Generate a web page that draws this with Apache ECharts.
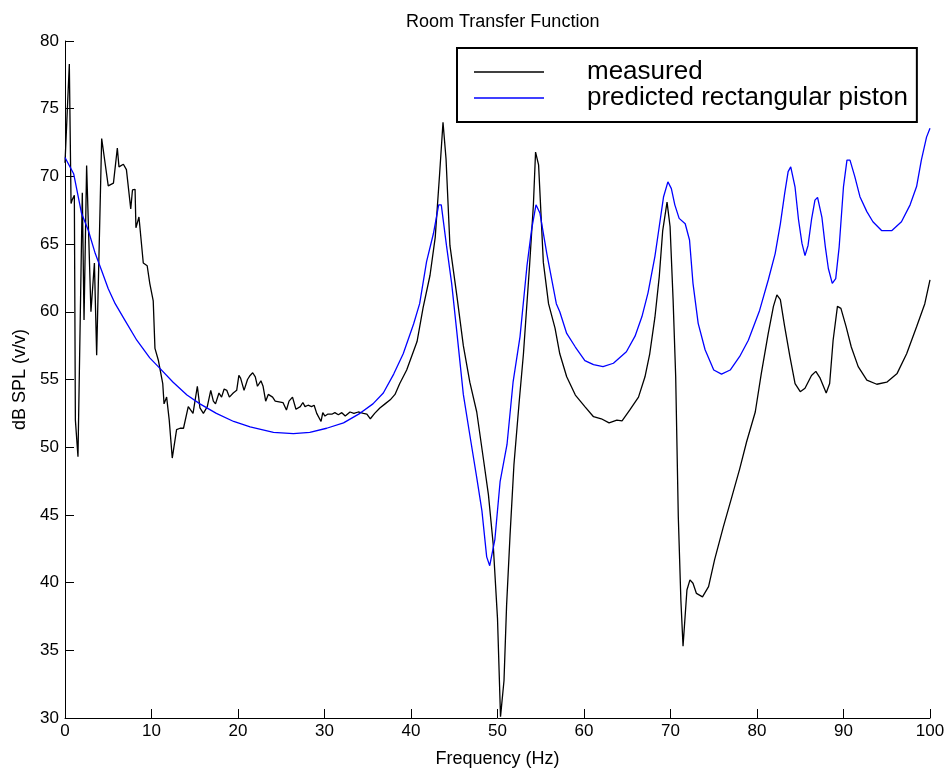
<!DOCTYPE html>
<html>
<head>
<meta charset="utf-8">
<script src="https://cdn.jsdelivr.net/npm/echarts@6/dist/echarts.min.js"></script>
<style>
  html, body { margin: 0; padding: 0; background: #fff; }
  #main { width: 951px; height: 773px; }
</style>
</head>
<body>
<div id="main"></div>
<script>
// measured response (Hz, dB)
var measuredFreq = [0, 0.5, 0.7, 0.85, 1.08, 1.2, 1.5, 2.0, 2.2, 2.5, 3.0, 3.4, 3.66, 4.24, 5.0, 5.6, 6.05, 6.24, 6.75, 7.1,
  7.6, 7.8, 8.1, 8.2, 8.55, 9.05, 9.5, 9.8, 10.2, 10.4, 10.8, 11.3, 11.45, 11.75, 12.05, 12.4, 12.9, 13.3, 13.7, 14.25,
  14.8, 15.3, 15.6, 16.0, 16.45, 16.85, 17.15, 17.4, 17.8, 18.1, 18.4, 18.7, 19.0, 19.45, 19.85, 20.1, 20.3, 20.7, 21.1, 21.4,
  21.7, 22.0, 22.25, 22.65, 22.9, 23.2, 23.5, 24.0, 24.3, 25.2, 25.6, 25.9, 26.3, 26.7, 27.2, 27.5, 27.75, 28.1, 28.5, 28.8,
  29.1, 29.6, 29.8, 30.05, 30.4, 30.9, 31.2, 31.6, 32.0, 32.4, 32.95, 33.4, 33.9, 34.5, 34.9, 35.3, 35.8, 36.4, 37.0, 37.6,
  38.15, 38.7, 39.5, 40.7, 41.4, 42.2, 42.8, 43.3, 43.7, 44.05, 44.5, 45.3, 46.05, 46.8, 47.6, 48.4, 48.95, 49.5, 50.0, 50.35,
  50.75, 51.05, 51.45, 51.9, 52.5, 53.0, 53.7, 54.15, 54.4, 54.75, 55.3, 55.9, 56.65, 57.2, 58.0, 59.0, 60.1, 61.1, 62.0, 62.9,
  63.8, 64.4, 65.3, 66.3, 67.05, 67.6, 68.2, 68.7, 69.1, 69.6, 69.95, 70.3, 70.6, 70.9, 71.2, 71.45, 71.9, 72.25, 72.6, 73.0,
  73.7, 74.4, 75.1, 76.1, 77.1, 78.0, 78.8, 79.8, 80.5, 81.3, 81.9, 82.3, 82.7, 83.2, 83.8, 84.4, 85.0, 85.55, 86.3, 86.8,
  87.3, 88.0, 88.4, 88.8, 89.3, 89.7, 90.3, 90.9, 91.7, 92.7, 93.85, 95.0, 96.2, 97.3, 98.45, 99.4, 100];
var measuredDb = [71.0, 78.3, 68.0, 68.3, 68.6, 52.0, 49.3, 68.8, 59.4, 70.8, 60.0, 63.6, 56.8, 72.8, 69.3, 69.5, 72.1, 70.7, 70.9, 70.5,
  67.6, 69.0, 69.05, 66.2, 67.0, 63.6, 63.4, 62.1, 60.8, 57.3, 56.4, 54.7, 53.2, 53.7, 52.0, 49.2, 51.3, 51.4, 51.4, 53.0,
  52.5, 54.5, 52.9, 52.5, 53.0, 54.2, 53.4, 53.2, 54.0, 53.7, 54.3, 54.2, 53.7, 54.0, 54.2, 55.3, 55.1, 54.2, 55.0, 55.3,
  55.5, 55.2, 54.5, 54.9, 54.5, 53.4, 53.9, 53.7, 53.4, 53.3, 52.75, 53.4, 53.7, 52.8, 53.0, 53.3, 53.0, 53.1, 53.0, 53.1,
  52.5, 51.9, 52.55, 52.3, 52.45, 52.45, 52.55, 52.4, 52.55, 52.3, 52.6, 52.5, 52.6, 52.5, 52.45, 52.1, 52.5, 52.9, 53.2, 53.5,
  53.9, 54.7, 55.7, 57.8, 60.3, 62.7, 65.5, 70.1, 74.0, 71.3, 64.9, 61.2, 57.5, 54.8, 52.6, 49.0, 46.5, 42.85, 37.35, 30.1,
  32.75, 38.3, 43.5, 48.7, 53.3, 56.9, 63.35, 67.9, 71.8, 70.85, 63.65, 60.6, 58.8, 56.9, 55.2, 53.85, 53.0, 52.25, 52.1, 51.8,
  52.0, 51.95, 52.75, 53.7, 55.2, 56.9, 59.6, 62.6, 66.0, 68.1, 66.3, 60.9, 55.2, 44.9, 38.7, 35.3, 39.45, 40.2, 39.95, 39.2,
  38.95, 39.7, 41.7, 44.1, 46.35, 48.4, 50.4, 52.6, 55.45, 58.4, 60.4, 61.25, 60.9, 58.9, 56.7, 54.7, 54.1, 54.35, 55.3, 55.6,
  55.1, 54.0, 54.7, 57.9, 60.4, 60.25, 58.9, 57.4, 55.95, 54.95, 54.65, 54.8, 55.45, 56.9, 58.9, 60.6, 62.35];

// predicted rectangular piston (Hz, dB)
var predictedFreq = [0, 1.0, 1.9, 2.7, 3.5, 4.2, 5.0, 5.8, 6.9, 8.3, 9.8, 11.0, 12.5, 14.1, 15.6, 17.5, 19.5, 21.4, 24.1, 26.4,
  28.3, 30.25, 32.2, 34.1, 35.6, 36.8, 38.0, 39.1, 40.3, 41.0, 41.8, 42.6, 43.2, 43.5, 44.1, 44.7, 45.3, 46.05, 46.8, 47.6,
  48.2, 48.75, 49.1, 49.7, 50.3, 51.1, 51.8, 52.6, 53.4, 53.95, 54.45, 54.9, 55.7, 56.8, 57.2, 58.0, 59.0, 60.1, 61.1, 62.2,
  63.4, 64.9, 65.9, 66.7, 67.4, 68.2, 68.7, 69.2, 69.7, 70.1, 70.5, 71.0, 71.7, 72.2, 72.6, 73.2, 74.0, 75.0, 75.9, 76.9,
  78.0, 79.0, 80.3, 81.3, 82.1, 82.7, 83.2, 83.6, 83.9, 84.4, 84.8, 85.2, 85.55, 85.9, 86.3, 86.7, 87.0, 87.5, 87.9, 88.25,
  88.7, 89.1, 89.5, 90.0, 90.4, 90.75, 91.3, 91.9, 92.7, 93.4, 94.4, 95.6, 96.7, 97.7, 98.45, 99.0, 99.6, 100];
var predictedDb = [71.4, 70.2, 67.3, 66.0, 64.3, 63.1, 61.7, 60.6, 59.4, 57.9, 56.6, 55.8, 54.8, 53.85, 53.2, 52.5, 51.9, 51.5, 51.1, 51.0,
  51.1, 51.4, 51.8, 52.5, 53.2, 54.0, 55.4, 56.9, 59.1, 60.6, 63.7, 65.8, 67.9, 67.9, 64.9, 62.1, 58.5, 53.9, 50.9, 47.75,
  45.3, 41.9, 41.25, 43.2, 47.45, 50.2, 54.8, 58.15, 63.35, 66.1, 67.9, 67.3, 64.3, 60.6, 60.0, 58.4, 57.4, 56.4, 56.1, 55.95,
  56.2, 57.05, 58.2, 59.65, 61.4, 64.1, 66.3, 68.5, 69.6, 69.1, 67.9, 66.9, 66.5, 65.3, 62.1, 59.15, 57.2, 55.7, 55.4, 55.7,
  56.7, 57.9, 60.1, 62.35, 64.3, 66.5, 68.75, 70.35, 70.7, 69.2, 66.8, 65.05, 64.15, 64.9, 66.8, 68.25, 68.45, 67.0, 64.8, 63.2,
  62.1, 62.45, 64.8, 69.25, 71.2, 71.2, 70.0, 68.5, 67.4, 66.65, 66.0, 66.0, 66.65, 67.9, 69.25, 71.2, 72.9, 73.55];

var font = 'Liberation Sans, Arial, sans-serif';

function pairs(xs, ys) {
  return xs.map(function (x, i) { return [x, ys[i]]; });
}

var chart = echarts.init(document.getElementById('main'));
var option = {
  animation: false,
  backgroundColor: '#fff',
  textStyle: { fontFamily: font, color: '#000' },
  title: {
    text: 'Room Transfer Function',
    left: 401,   // centred over the plot area
    top: 8,
    textStyle: { fontFamily: font, fontSize: 18, fontWeight: 'normal', color: '#000' }
  },
  grid: { left: 65, right: 21, top: 41, bottom: 55 },
  legend: {
    orient: 'vertical',
    left: 457,
    top: 48,
    padding: [11, 9, 11, 17],
    borderColor: '#000',
    borderWidth: 2,
    icon: 'rect',
    itemWidth: 70,
    itemHeight: 1.3,
    itemGap: 0,
    textStyle: { fontFamily: font, fontSize: 26, color: '#000', lineHeight: 26, padding: [0, 0, 0, 38] },
    data: ['measured', 'predicted rectangular piston']
  },
  xAxis: {
    type: 'value',
    min: 0,
    max: 100,
    interval: 10,
    name: 'Frequency (Hz)',
    nameLocation: 'middle',
    nameGap: 32,
    nameTextStyle: { fontFamily: font, fontSize: 18, color: '#000' },
    axisLine: { lineStyle: { color: '#000', width: 1 } },
    axisTick: { inside: true, length: 9, lineStyle: { color: '#000' } },
    axisLabel: { fontFamily: font, fontSize: 17, color: '#000', margin: 5 },
    splitLine: { show: false }
  },
  yAxis: {
    type: 'value',
    min: 30,
    max: 80,
    interval: 5,
    name: 'dB SPL (v/v)',
    nameLocation: 'middle',
    nameGap: 33,
    nameTextStyle: { fontFamily: font, fontSize: 18, color: '#000' },
    axisLine: { show: true, lineStyle: { color: '#000', width: 1 } },
    axisTick: { show: true, inside: true, length: 9, lineStyle: { color: '#000' } },
    axisLabel: { fontFamily: font, fontSize: 17, color: '#000', margin: 6 },
    splitLine: { show: false }
  },
  series: [
    {
      name: 'measured',
      type: 'line',
      symbol: 'none',
      color: '#000000',
      lineStyle: { color: '#000000', width: 1.3 },
      data: pairs(measuredFreq, measuredDb)
    },
    {
      name: 'predicted rectangular piston',
      type: 'line',
      symbol: 'none',
      color: '#0000ff',
      lineStyle: { color: '#0000ff', width: 1.3 },
      data: pairs(predictedFreq, predictedDb)
    }
  ]
};
chart.setOption(option);
</script>
</body>
</html>
